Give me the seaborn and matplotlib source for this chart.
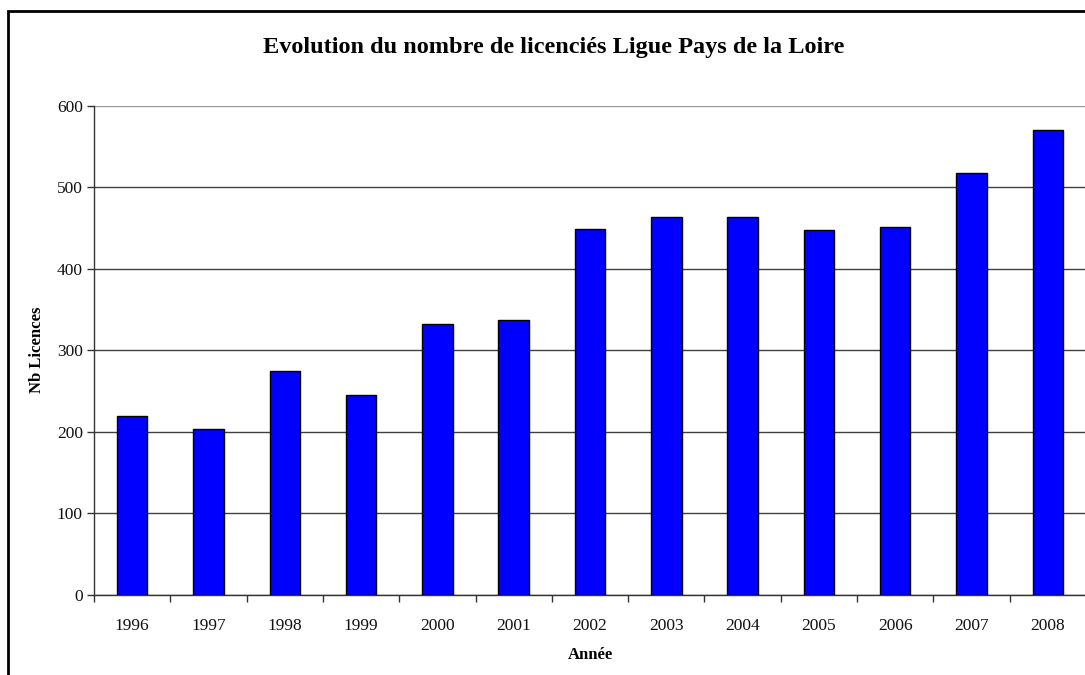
import matplotlib
matplotlib.use("Agg")
import matplotlib.pyplot as plt
import seaborn as sns
import numpy as np
from matplotlib.patches import Rectangle

years = ["1996", "1997", "1998", "1999", "2000", "2001", "2002",
         "2003", "2004", "2005", "2006", "2007", "2008"]
licences = [220, 204, 275, 245, 332, 337, 449, 464, 464, 448, 451, 518, 571]
yticks = [0, 100, 200, 300, 400, 500, 600]

title = "Evolution du nombre de licenciés Ligue Pays de la Loire"
xlabel = "Année"
ylabel = "Nb Licences"

sns.set_theme(style="white")
plt.rcParams['font.family'] = ['Liberation Serif', 'DejaVu Serif']

W, H = 1085, 675
fig = plt.figure(figsize=(W / 100, H / 100), dpi=100)
fig.patch.set_facecolor("white")

# chart area border (cropped on right and bottom like the reference)
fig.patches.append(Rectangle((8 / W, -0.05), 1.1, 1 - 11 / H + 0.05,
                             transform=fig.transFigure, fill=False,
                             edgecolor="black", linewidth=2, zorder=0))

left, right = 94 / W, 1086 / W
bottom, top = 1 - 594.7 / H, 1 - 106 / H
ax = fig.add_axes([left, bottom, right - left, top - bottom])
ax.set_facecolor("white")

sns.barplot(x=years, y=licences, ax=ax, color="#0000FF", saturation=1,
            edgecolor="black", linewidth=1.0, width=0.40, zorder=3)

ax.set_xlim(-0.5, len(years) - 0.5)
ax.set_ylim(0, 600)
ax.set_yticks(yticks)
ax.set_yticklabels([str(v) for v in yticks], fontsize=12.5)
ax.yaxis.grid(True, color="#404040", linewidth=1.0, zorder=0)
ax.set_axisbelow(True)
gl = ax.get_ygridlines()
gl[-1].set_color("#9a9a9a")

# x ticks at category boundaries, labels centred
ax.set_xticks(np.arange(len(years)))
ax.set_xticklabels(years, fontsize=12.5)
ax.set_xticks(np.arange(len(years) + 1) - 0.5, minor=True)
ax.tick_params(axis="x", which="major", bottom=True, length=0, pad=17)
ax.tick_params(axis="x", which="minor", bottom=True, length=5, width=1,
               color="#333333", direction="out")
ax.tick_params(axis="y", which="major", left=True, length=5, width=1,
               color="#333333", direction="out", pad=3)
for lab in ax.get_xticklabels() + ax.get_yticklabels():
    lab.set_color("#111111")

for s in ["top", "right"]:
    ax.spines[s].set_visible(False)
for s in ["left", "bottom"]:
    ax.spines[s].set_color("#333333")
    ax.spines[s].set_linewidth(1.0)

ax.set_xlabel("")
ax.set_ylabel("")
fig.text(590 / W, 1 - 655 / H, xlabel, ha="center", va="center",
         fontsize=12, fontweight="bold", color="black")
fig.text(37 / W, 1 - 350 / H, ylabel, ha="center", va="center",
         rotation=90, fontsize=12, fontweight="bold", color="black")
fig.text(554 / W, 1 - 48 / H, title, ha="center", va="center",
         fontsize=17.5, fontweight="bold", color="black")

fig.savefig("out.png", dpi=100, facecolor="white")
